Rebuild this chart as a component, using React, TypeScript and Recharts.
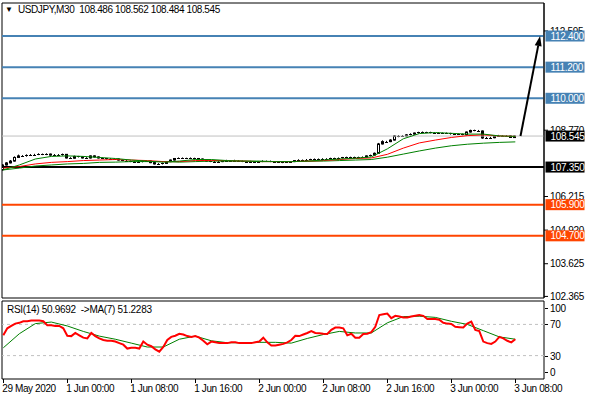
import React from 'react';
import { ComposedChart, Bar, Line, XAxis, YAxis, ReferenceLine, ReferenceArea } from 'recharts';

const SYMBOL = 'USDJPY,M30';
const LAST_OHLC = ['108.486', '108.562', '108.484', '108.545'];
const RSI_CAPTION = 'RSI(14) 50.9692  ->MA(7) 51.2283';

const OPEN = [107.25,107.43,107.51,107.58,107.72,107.78,107.77,107.80,107.81,107.83,
107.85,107.83,107.85,107.81,107.82,107.81,107.84,107.70,107.69,107.76,
107.74,107.70,107.70,107.78,107.74,107.70,107.68,107.66,107.66,107.66,
107.62,107.60,107.58,107.56,107.56,107.55,107.58,107.58,107.52,107.47,
107.47,107.49,107.56,107.62,107.68,107.69,107.69,107.69,107.69,107.68,
107.66,107.62,107.58,107.56,107.56,107.56,107.60,107.60,107.60,107.60,
107.58,107.56,107.55,107.56,107.55,107.56,107.58,107.58,107.56,107.53,
107.53,107.53,107.53,107.56,107.60,107.62,107.62,107.64,107.65,107.66,
107.66,107.66,107.67,107.69,107.69,107.70,107.72,107.73,107.73,107.73,
107.72,107.74,107.78,107.81,107.88,108.24,108.33,108.33,108.39,108.55,
108.53,108.55,108.59,108.62,108.66,108.69,108.69,108.69,108.67,108.66,
108.66,108.66,108.65,108.62,108.62,108.62,108.59,108.70,108.76,108.75,
108.74,108.47,108.47,108.48,108.53,108.56,108.55,108.55,108.486];
const HIGH = [107.46,107.54,107.62,107.76,107.83,107.81,107.84,107.85,107.86,107.88,
107.87,107.88,107.87,107.85,107.85,107.87,107.85,107.73,107.79,107.78,
107.76,107.73,107.80,107.80,107.76,107.72,107.70,107.69,107.68,107.68,
107.64,107.62,107.60,107.59,107.58,107.61,107.61,107.60,107.54,107.50,
107.52,107.58,107.64,107.70,107.72,107.72,107.71,107.72,107.71,107.70,
107.68,107.64,107.60,107.59,107.58,107.62,107.63,107.62,107.63,107.62,
107.60,107.58,107.59,107.58,107.58,107.61,107.60,107.60,107.58,107.56,
107.55,107.56,107.58,107.62,107.65,107.64,107.66,107.67,107.68,107.68,
107.69,107.69,107.71,107.71,107.72,107.74,107.75,107.75,107.75,107.75,
107.76,107.80,107.83,107.91,108.28,108.38,108.36,108.42,108.58,108.58,
108.58,108.62,108.65,108.68,108.71,108.72,108.71,108.71,108.69,108.69,
108.68,108.68,108.67,108.65,108.64,108.64,108.72,108.79,108.79,108.78,
108.76,108.51,108.51,108.55,108.59,108.58,108.58,108.57,108.562];
const LOW = [107.21,107.41,107.49,107.56,107.70,107.74,107.75,107.78,107.79,107.81,
107.81,107.81,107.79,107.79,107.78,107.79,107.68,107.66,107.67,107.72,
107.68,107.67,107.68,107.72,107.68,107.66,107.64,107.64,107.63,107.60,
107.58,107.56,107.54,107.53,107.53,107.53,107.55,107.50,107.45,107.45,
107.45,107.47,107.54,107.60,107.66,107.67,107.66,107.67,107.66,107.64,
107.60,107.56,107.54,107.54,107.53,107.54,107.58,107.57,107.58,107.56,
107.54,107.53,107.53,107.53,107.53,107.54,107.55,107.54,107.51,107.51,
107.50,107.51,107.51,107.54,107.58,107.60,107.60,107.62,107.63,107.64,
107.64,107.64,107.65,107.67,107.67,107.68,107.70,107.71,107.70,107.70,
107.70,107.72,107.76,107.79,107.86,108.22,108.29,108.31,108.37,108.50,
108.51,108.53,108.57,108.60,108.64,108.67,108.66,108.65,108.64,108.64,
108.63,108.63,108.60,108.60,108.59,108.57,108.57,108.68,108.73,108.72,
108.44,108.43,108.45,108.46,108.51,108.53,108.52,108.47,108.484];
const CLOSE = [107.43,107.51,107.58,107.72,107.78,107.77,107.80,107.81,107.83,107.85,
107.83,107.85,107.81,107.82,107.81,107.84,107.70,107.69,107.76,107.74,
107.70,107.70,107.78,107.74,107.70,107.68,107.66,107.66,107.66,107.62,
107.60,107.58,107.56,107.56,107.55,107.58,107.58,107.52,107.47,107.47,
107.49,107.56,107.62,107.68,107.69,107.69,107.69,107.69,107.68,107.66,
107.62,107.58,107.56,107.56,107.56,107.60,107.60,107.60,107.60,107.58,
107.56,107.55,107.56,107.55,107.56,107.58,107.58,107.56,107.53,107.53,
107.53,107.53,107.56,107.60,107.62,107.62,107.64,107.65,107.66,107.66,
107.66,107.67,107.69,107.69,107.70,107.72,107.73,107.73,107.73,107.72,
107.74,107.78,107.81,107.88,108.24,108.33,108.33,108.39,108.55,108.53,
108.55,108.59,108.62,108.66,108.69,108.69,108.69,108.67,108.66,108.66,
108.66,108.65,108.62,108.62,108.62,108.59,108.70,108.76,108.75,108.74,
108.47,108.47,108.48,108.53,108.56,108.55,108.55,108.49,108.545];

// moving averages read every 4th bar
const MA_STEP = 4;
const MA_FAST = [107.24,107.43,107.66,107.76,107.78,107.76,107.72,107.68,107.62,107.58,
107.54,107.58,107.64,107.64,107.60,107.58,107.56,107.56,107.56,107.58,
107.62,107.66,107.69,107.74,108.05,108.44,108.64,108.68,108.65,108.62,
108.62,108.55,108.53];
const MA_MID = [107.31,107.37,107.47,107.53,107.56,107.60,107.62,107.64,107.62,107.60,
107.56,107.56,107.60,107.60,107.60,107.58,107.56,107.56,107.56,107.58,
107.60,107.64,107.68,107.70,107.84,108.08,108.28,108.39,108.49,108.56,
108.59,108.55,108.53];
const MA_SLOW = [107.24,107.31,107.39,107.43,107.47,107.49,107.53,107.54,107.56,107.56,
107.56,107.54,107.56,107.58,107.58,107.58,107.58,107.56,107.56,107.57,
107.58,107.60,107.62,107.64,107.73,107.85,107.97,108.08,108.17,108.23,
108.27,108.30,108.32];

const RSI = [56,65,68,71,72,74,74,75,75,75,
74,69,69,68,68,65,55.5,55,59,56,
53,52,59,55,52,50,49,49,48,46,
44,39,40,40,39,48,44,42,38,35,
41,50,54,55.5,58,57,55,54,55,53,
49,44.5,48,47,46,46,46,47,47,46,
46,46,46,47,48,53,47,43,43,44,
45,47,50,55.5,55,57,59,61.5,59,58.5,
58,57.7,63,66,66,65,56,58,53,53,
57.7,58,60,67,82,83,84,78,81,80,
79,79,80,81,82,81,77,77,77,76,
72,71,70.5,67,66.5,66,71,73.5,63,61.5,
48,46,45,48,54,52,49,47,51];
const RSI_MA = [40,58,71,73,68,61,55,51,46,41,
41,51,55,49,46.5,46.5,47,47,46,52,
57,61,59,59,72,80,80.5,79,74,70,
62,54,51];

const TIME_TICKS = [0, 16, 32, 48, 64, 80, 96, 112, 128];
const TIME_LABELS = ['29 May 2020', '1 Jun 00:00', '1 Jun 08:00', '1 Jun 16:00', '2 Jun 00:00', '2 Jun 08:00', '2 Jun 16:00', '3 Jun 00:00', '3 Jun 08:00'];
const PRICE_TICKS = [102.365, 103.625, 104.92, 106.215, 108.77, 112.595];
const BLUE_LEVELS = [112.4, 111.2, 110.0];
const BLACK_LEVEL = 107.35;
const RED_LEVELS = [105.9, 104.7];
const BID = 108.545;
const TAG_VALUES = [...BLUE_LEVELS, BID, BLACK_LEVEL, ...RED_LEVELS];
const ARROW_FROM = { bar: 129.3, price: 108.545 };
const ARROW_TO = { bar: 134.2, price: 112.4 };
const RSI_TICKS = [0, 30, 70, 100];
const RSI_LEVELS = [70, 30];

const X_DOMAIN: [number, number] = [-0.325, 135.175];
const Y_DOMAIN: [number, number] = [102.304, 113.672];
const FONT = '"Liberation Sans", Arial, sans-serif';
const BLUE = '#4682B4';
const ORANGE = '#FF4500';
const GREEN = '#008000';

const priceData = OPEN.map((o, i) => ({
  i,
  o,
  h: HIGH[i],
  l: LOW[i],
  c: CLOSE[i],
  range: [LOW[i], HIGH[i]],
  fast: i % MA_STEP === 0 ? MA_FAST[i / MA_STEP] : null,
  mid: i % MA_STEP === 0 ? MA_MID[i / MA_STEP] : null,
  slow: i % MA_STEP === 0 ? MA_SLOW[i / MA_STEP] : null,
}));

const rsiData = RSI.map((r, i) => ({
  i,
  rsi: r,
  rsiMa: i % MA_STEP === 0 ? RSI_MA[i / MA_STEP] : null,
}));

const tagColor = (v: number) =>
  BLUE_LEVELS.includes(v) ? BLUE : RED_LEVELS.includes(v) ? ORANGE : '#000';

const Candle = (props: any) => {
  const { x, y, width, height, payload } = props;
  if (x == null || y == null || !payload) return null;
  const { o, h, l, c } = payload;
  const top = Math.min(y, y + height);
  const hgt = Math.abs(height);
  const ratio = hgt / (h - l);
  const yOf = (v: number) => top + (h - v) * ratio;
  const cx = Math.floor(x + width / 2) + 0.5;
  const bTop = yOf(Math.max(o, c));
  const bBot = yOf(Math.min(o, c));
  const bull = c >= o;
  return (
    <g>
      <line x1={cx} x2={cx} y1={top} y2={top + hgt} stroke="#000" strokeWidth={1} />
      {bBot - bTop < 1 ? (
        <line x1={cx - 1.5} x2={cx + 1.5} y1={Math.round(bTop) + 0.5} y2={Math.round(bTop) + 0.5} stroke="#000" strokeWidth={1} />
      ) : (
        <rect x={cx - 1} y={bTop} width={2} height={bBot - bTop} fill={bull ? '#fff' : '#000'} stroke="#000" strokeWidth={1} />
      )}
    </g>
  );
};

const PriceTick = (props: any) => {
  const { x, y, payload } = props;
  return (
    <text x={x} y={y} dy="0.36em" fill="#000" fontSize={10} fontFamily={FONT} letterSpacing={-0.3}>
      {Number(payload.value).toFixed(3)}
    </text>
  );
};

const TagTick = (props: any) => {
  const { x, y, payload } = props;
  const v = Number(payload.value);
  return (
    <g>
      <rect x={x + 1.5} y={y - 5.5} width={39} height={11} fill={tagColor(v)} />
      <text x={x + 6.5} y={y} dy="0.36em" fill="#fff" fontSize={10} fontFamily={FONT} letterSpacing={-0.3}>
        {v.toFixed(3)}
      </text>
    </g>
  );
};

const RsiLabel = (props: any) => {
  const { viewBox, text, shift } = props;
  if (!viewBox) return null;
  const x = viewBox.x + viewBox.width;
  const y = Math.round(viewBox.y + shift);
  return (
    <g>
      <line x1={x + 1} x2={x + 4} y1={y + 0.5} y2={y + 0.5} stroke="#000" />
      <text x={x + 6} y={y} dy="0.36em" fill="#000" fontSize={10} fontFamily={FONT} letterSpacing={-0.3}>{text}</text>
    </g>
  );
};

const ArrowShape = (p: any) => {
  const { x1, y1, x2, y2 } = p;
  if ([x1, y1, x2, y2].some((v) => v == null || isNaN(v))) return null;
  const ang = Math.atan2(y2 - y1, x2 - x1);
  const L = 10;
  const W = 3.5;
  const bx = x2 - L * Math.cos(ang);
  const by = y2 - L * Math.sin(ang);
  const px = -Math.sin(ang) * W;
  const py = Math.cos(ang) * W;
  return (
    <g>
      <line x1={x1} y1={y1} x2={bx} y2={by} stroke="#000" strokeWidth={2} />
      <polygon points={`${x2},${y2} ${bx + px},${by + py} ${bx - px},${by - py}`} fill="#000" />
    </g>
  );
};

const TimeTick = (props: any) => {
  const { x, y, payload } = props;
  const idx = TIME_TICKS.indexOf(payload.value);
  const px = Math.floor(x) + 0.5;
  return (
    <g>
      <line x1={px} x2={px} y1={y} y2={y + 4} stroke="#000" />
      <text x={x - 1} y={y + 13} fill="#000" fontSize={10} fontFamily={FONT} letterSpacing={-0.4}>{TIME_LABELS[idx]}</text>
    </g>
  );
};

export default function App() {
  return (
    <div style={{ position: 'absolute', left: 0, top: 0, width: 590, height: 400, background: '#fff', fontFamily: FONT }}>
      <div style={{ position: 'absolute', left: 0, top: 0 }}>
        <ComposedChart width={590} height={304} data={priceData} margin={{ top: 3, right: 0, bottom: 6, left: 2 }}>
          <XAxis type="number" dataKey="i" domain={X_DOMAIN} hide allowDataOverflow />
          <YAxis
            orientation="right"
            width={46}
            domain={Y_DOMAIN}
            allowDataOverflow
            ticks={PRICE_TICKS}
            interval={0}
            tick={<PriceTick />}
            tickSize={4}
            tickMargin={2}
            axisLine={{ stroke: '#000' }}
            tickLine={{ stroke: '#000' }}
          />
          <ReferenceArea x1={X_DOMAIN[0]} x2={X_DOMAIN[1]} y1={Y_DOMAIN[0]} y2={Y_DOMAIN[1]} fill="none" stroke="#000" strokeWidth={1} ifOverflow="visible" />
          <ReferenceLine y={BID} stroke="#C0C0C0" strokeWidth={1} />
          {BLUE_LEVELS.map((v) => (
            <ReferenceLine key={v} y={v} stroke={BLUE} strokeWidth={2} />
          ))}
          <ReferenceLine y={BLACK_LEVEL} stroke="#000" strokeWidth={2} />
          {RED_LEVELS.map((v) => (
            <ReferenceLine key={v} y={v} stroke={ORANGE} strokeWidth={2} />
          ))}
          <Line dataKey="slow" stroke={GREEN} strokeWidth={1} dot={false} connectNulls isAnimationActive={false} />
          <Line dataKey="mid" stroke="#FF0000" strokeWidth={1} dot={false} connectNulls isAnimationActive={false} />
          <Line dataKey="fast" stroke={GREEN} strokeWidth={1} dot={false} connectNulls isAnimationActive={false} />
          <Bar dataKey="range" barSize={3} shape={<Candle />} isAnimationActive={false} />
          <ReferenceLine
            segment={[{ x: ARROW_FROM.bar, y: ARROW_FROM.price }, { x: ARROW_TO.bar, y: ARROW_TO.price }]}
            stroke="#000"
            strokeWidth={2}
            shape={<ArrowShape />}
            ifOverflow="visible"
          />
        </ComposedChart>
      </div>
      <div style={{ position: 'absolute', left: 0, top: 0, pointerEvents: 'none' }}>
        <ComposedChart width={590} height={304} data={priceData} margin={{ top: 3, right: 0, bottom: 6, left: 2 }}>
          <XAxis type="number" dataKey="i" domain={X_DOMAIN} hide allowDataOverflow />
          <YAxis
            orientation="right"
            width={46}
            domain={Y_DOMAIN}
            allowDataOverflow
            ticks={TAG_VALUES}
            interval={0}
            tick={<TagTick />}
            tickSize={0}
            tickMargin={0}
            axisLine={false}
            tickLine={false}
          />
        </ComposedChart>
      </div>
      <div style={{ position: 'absolute', left: 0, top: 298 }}>
        <ComposedChart width={590} height={100} data={rsiData} margin={{ top: 3, right: 46, bottom: 0, left: 2 }}>
          <XAxis
            type="number"
            dataKey="i"
            domain={X_DOMAIN}
            allowDataOverflow
            ticks={TIME_TICKS}
            height={19}
            axisLine={false}
            tickLine={false}
            tickSize={0}
            tickMargin={0}
            tick={<TimeTick />}
            interval={0}
          />
          <YAxis
            orientation="right"
            width={0}
            domain={[0, 100]}
            ticks={RSI_TICKS}
            axisLine={{ stroke: '#000' }}
            tickLine={false}
            tick={false}
          />
          <ReferenceArea x1={X_DOMAIN[0]} x2={X_DOMAIN[1]} y1={0} y2={100} fill="none" stroke="#000" strokeWidth={1} ifOverflow="visible" />
          {RSI_LEVELS.map((v) => (
            <ReferenceLine key={v} y={v} stroke="#C0C0C0" strokeDasharray="3 3" strokeWidth={1} />
          ))}
          {RSI_TICKS.map((v) => (
            <ReferenceLine
              key={'t' + v}
              y={v}
              stroke="none"
              ifOverflow="visible"
              label={<RsiLabel text={String(v)} shift={v === 100 ? 7 : v === 0 ? -7 : 0} />}
            />
          ))}
          <Line dataKey="rsiMa" stroke={GREEN} strokeWidth={1} dot={false} connectNulls isAnimationActive={false} />
          <Line dataKey="rsi" stroke="#FF0000" strokeWidth={2} dot={false} isAnimationActive={false} />
        </ComposedChart>
      </div>
      <div style={{ position: 'absolute', left: 5, top: 4, fontSize: 10, lineHeight: '12px', letterSpacing: -0.4, color: '#000', whiteSpace: 'pre' }}>
        <span style={{ fontSize: 8, letterSpacing: 0, verticalAlign: 'top', lineHeight: '12px' }}>▼</span>
        <span style={{ marginLeft: 5 }}>{SYMBOL}</span>
        <span style={{ marginLeft: 5 }}>{LAST_OHLC.join(' ')}</span>
      </div>
      <div style={{ position: 'absolute', left: 7, top: 304, fontSize: 10, lineHeight: '12px', letterSpacing: -0.3, color: '#000', whiteSpace: 'pre' }}>
        {RSI_CAPTION}
      </div>
    </div>
  );
}
